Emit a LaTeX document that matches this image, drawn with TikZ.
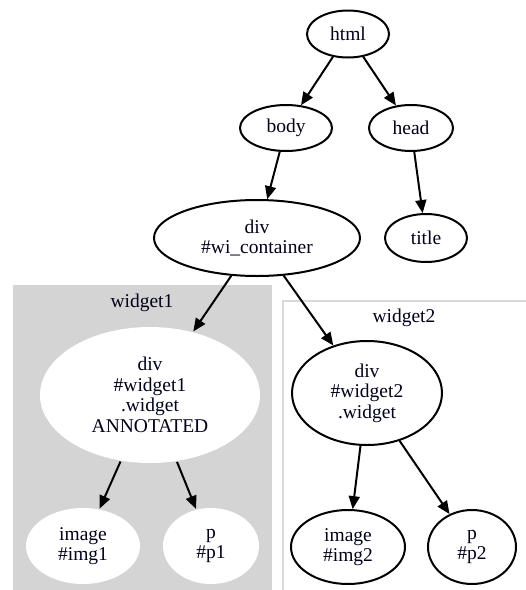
\documentclass[tikz,border=0pt]{standalone}
\usepackage{fontspec}
\setmainfont{Liberation Serif}
\usetikzlibrary{shapes.geometric,arrows.meta}
\tikzset{
  nd/.style={ellipse, draw=black, line width=2pt, fill=white, inner sep=0pt,
    align=center, font=\fontsize{19.5}{20.5}\selectfont, text=black!90!blue},
  nofr/.style={nd, draw=none},
  edge/.style={line width=2pt, -{Triangle[length=13pt,width=11pt]}},
  cluslabel/.style={font=\fontsize{19.5}{20.5}\selectfont, text=black!90!blue, inner sep=0pt}
}
\begin{document}
\begin{tikzpicture}[x=1pt,y=-1pt]
\useasboundingbox (0,0) rectangle (526,590);
% clusters
\fill[black!17] (13,285) rectangle (272,600);
\draw[black!15, line width=2.5pt] (283,301) rectangle (540,600);
\node[cluslabel] (c1) at (142,303) {widget1};
\node[cluslabel] (c2) at (404,318) {widget2};
% nodes
\node[nd, minimum width=82, minimum height=47] (html) at (348,34) {html};
\node[nd, minimum width=92, minimum height=46] (body) at (286,128) {body};
\node[nd, minimum width=84, minimum height=46] (head) at (411,128) {head};
\node[nd, minimum width=206, minimum height=76] (cont) at (257,238) {div\\\#wi\_container};
\node[nd, minimum width=82, minimum height=48] (title) at (426,238) {title};
\node[nofr, minimum width=220, minimum height=136] (w1) at (150,395) {div\\\#widget1\\.widget\\ANNOTATED};
\node[nd, minimum width=150, minimum height=104] (w2) at (367,393) {div\\\#widget2\\.widget};
\node[nofr, minimum width=114, minimum height=76] (img1) at (83,546) {image\\\#img1};
\node[nofr, minimum width=96, minimum height=76] (p1) at (211,546) {p\\\#p1};
\node[nd, minimum width=114, minimum height=74] (img2) at (348,547) {image\\\#img2};
\node[nd, minimum width=88, minimum height=74] (p2) at (472,547) {p\\\#p2};
% edges
\draw[edge] (html) -- (body);
\draw[edge] (html) -- (head);
\draw[edge] (body) -- (cont);
\draw[edge] (head) -- (title);
\draw[edge] (cont) -- (w1);
\draw[edge] (cont) -- (w2);
\draw[edge] (w1) -- (img1);
\draw[edge] (w1) -- (p1);
\draw[edge] (w2) -- (img2);
\draw[edge] (w2) -- (p2);
\end{tikzpicture}
\end{document}
